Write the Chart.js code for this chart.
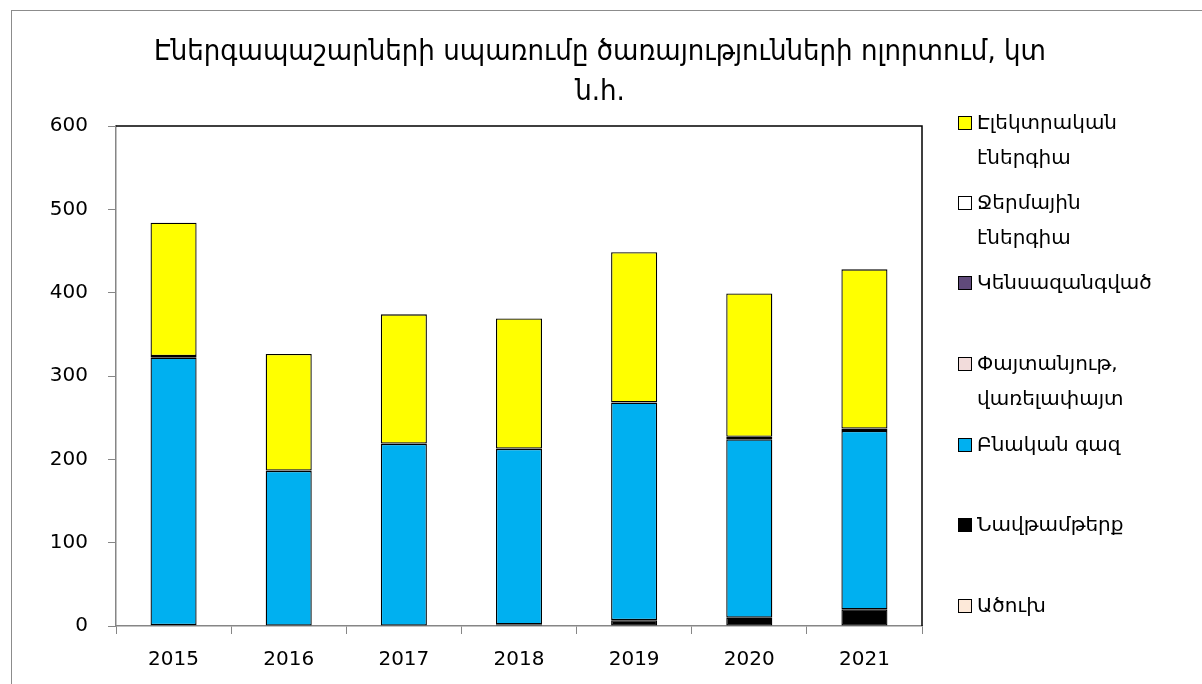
<!DOCTYPE html>
<html>
<head>
<meta charset="utf-8">
<script src="https://cdn.jsdelivr.net/npm/chart.js@4"></script>
<style>
  html, body { margin:0; padding:0; background:#fff; }
  #wrap { position:relative; width:1202px; height:684px; overflow:hidden; }
  #frame { position:absolute; left:11px; top:10px; width:1200px; height:690px; border:1px solid #8c8c8c; box-sizing:border-box; }
  #title { position:absolute; left:50px; width:1100px; top:30px; text-align:center; font-family:"DejaVu Sans Condensed","DejaVu Sans",sans-serif; font-size:29px; line-height:40px; color:#000; }
  #legend { position:absolute; left:958px; top:0; width:240px; font-family:"DejaVu Sans","Noto Sans",sans-serif; font-size:20px; color:#000; }
  .li { position:absolute; left:0; line-height:35px; }
  .box { position:absolute; left:0; width:14px; height:14px; border:1.5px solid #000; box-sizing:border-box; }
  .txt { position:absolute; left:19px; white-space:nowrap; }
  canvas { position:absolute; left:0; top:0; }
</style>
</head>
<body>
<div id="wrap">
  <div id="frame"></div>
  <canvas id="c" width="1202" height="684"></canvas>
  <div id="title">Էներգապաշարների սպառումը ծառայությունների ոլորտում, կտ<br>ն.հ.</div>
  <div id="legend"></div>
</div>
<script>
const years = ['2015','2016','2017','2018','2019','2020','2021'];
const coal        = [0, 0, 0, 0, 0, 0, 0];
const oil         = [1, 0.5, 0.5, 2, 7, 10, 20];
const gas         = [321, 185.5, 218, 210.5, 261, 214, 214];
const wood        = [0, 0, 0, 0, 0, 0, 0];
const biomass     = [0, 0, 0, 0, 0, 0, 0];
const thermal     = [2, 0.5, 0.5, 0.5, 0.5, 3, 3];
const electricity = [160, 140, 155, 156, 180, 172, 191];
const yTicks = [0, 100, 200, 300, 400, 500, 600];

const series = [
  { label: 'Ածուխ', lines: ['Ածուխ'], data: coal, color: '#FDE9D9' },
  { label: 'Նավթամթերք', lines: ['Նավթամթերք'], data: oil, color: '#000000' },
  { label: 'Բնական գազ', lines: ['Բնական գազ'], data: gas, color: '#00B0F0' },
  { label: 'Փայտանյութ, վառելափայտ', lines: ['Փայտանյութ,', 'վառելափայտ'], data: wood, color: '#F2DCDB' },
  { label: 'Կենսազանգված', lines: ['Կենսազանգված'], data: biomass, color: '#604A7B' },
  { label: 'Ջերմային էներգիա', lines: ['Ջերմային', 'էներգիա'], data: thermal, color: '#FFFFFF' },
  { label: 'Էլեկտրական էներգիա', lines: ['Էլեկտրական', 'էներգիա'], data: electricity, color: '#FFFF00' }
];

const frameLines = {
  id: 'frameLines',
  afterDatasetsDraw(chart) {
    const a = chart.chartArea, ctx = chart.ctx;
    ctx.save();
    ctx.strokeStyle = '#000';
    ctx.lineWidth = 1.5;
    ctx.beginPath();
    ctx.moveTo(a.left, a.top);
    ctx.lineTo(a.right, a.top);
    ctx.lineTo(a.right, a.bottom);
    ctx.stroke();
    ctx.restore();
  }
};

const tickFont = { family: '"DejaVu Sans", Verdana, sans-serif', size: 20 };

const chart = new Chart(document.getElementById('c'), {
  type: 'bar',
  data: {
    labels: years,
    datasets: series.map(s => ({
      label: s.label,
      data: s.data,
      backgroundColor: s.color,
      borderColor: '#000',
      borderWidth: 1.3,
      borderSkipped: false,
      barPercentage: 0.4,
      categoryPercentage: 1.0
    }))
  },
  options: {
    responsive: false,
    animation: false,
    layout: { padding: { top: 126, right: 280, bottom: 0, left: 0 } },
    plugins: { legend: { display: false }, title: { display: false }, tooltip: { enabled: false } },
    scales: {
      x: {
        stacked: true,
        grid: { display: true, offset: true, drawOnChartArea: false, drawTicks: true, tickLength: 8, color: '#868686' },
        border: { display: true, color: '#868686', width: 1.5 },
        ticks: { color: '#000', font: tickFont, padding: 14, maxRotation: 0 },
        afterFit(s) { s.height = 58; }
      },
      y: {
        stacked: true,
        min: 0, max: 600,
        afterBuildTicks(s) { s.ticks = yTicks.map(v => ({ value: v })); },
        grid: { display: true, drawOnChartArea: false, drawTicks: true, tickLength: 8, color: '#868686' },
        border: { display: true, color: '#868686', width: 1.5 },
        ticks: { color: '#000', font: tickFont, padding: 20 },
        afterFit(s) { s.width = 116; }
      }
    }
  },
  plugins: [frameLines]
});

// HTML legend built from the chart datasets (top = last dataset)
const legendCenter = [122, 202, 282, 363, 444, 524, 605];
const lg = document.getElementById('legend');
series.slice().reverse().forEach((s, i) => {
  const ds = chart.data.datasets.find(d => d.label === s.label);
  const el = document.createElement('div');
  el.className = 'li';
  el.style.top = (legendCenter[i] - 17.5) + 'px';
  el.innerHTML = '<div class="box" style="top:11px;background:' + ds.backgroundColor + '"></div>' +
    '<div class="txt">' + s.lines.join('<br>') + '</div>';
  lg.appendChild(el);
});
</script>
</body>
</html>
